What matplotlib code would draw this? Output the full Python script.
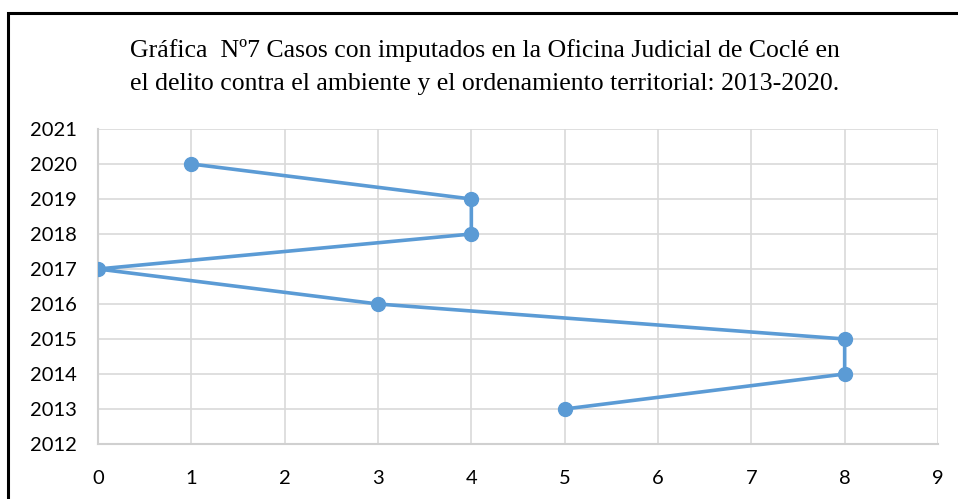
import matplotlib.pyplot as plt
from matplotlib.patches import Rectangle

years = [2013, 2014, 2015, 2016, 2017, 2018, 2019, 2020]
casos = [5, 8, 8, 3, 0, 4, 4, 1]
titulo = ("Gráfica  Nº7 Casos con imputados en la Oficina Judicial de Coclé en\n"
          "el delito contra el ambiente y el ordenamiento territorial: 2013-2020.")

W, H = 958, 499
fig = plt.figure(figsize=(W / 100, H / 100), dpi=100)
ax = fig.add_axes([98 / W, (H - 444) / H, 840 / W, 315 / H])

ax.plot(casos, years, color='#5b9bd5', lw=2.6, marker='o', ms=10, zorder=3)

ax.set_xlim(0, 9)
ax.set_ylim(2012, 2021)
ax.set_xticks(range(0, 10))
ax.set_yticks(range(2012, 2022))
ax.grid(True, color='#d9d9d9', lw=1.2)
ax.set_axisbelow(True)
for s in ax.spines.values():
    s.set_visible(False)
for side in ['left', 'bottom']:
    ax.spines[side].set_visible(True)
    ax.spines[side].set_color('#d0d0d0')
    ax.spines[side].set_linewidth(1.5)
ax.tick_params(length=0, labelsize=14.5)
ax.tick_params(axis='y', pad=15)
ax.tick_params(axis='x', pad=19)
for lab in ax.get_xticklabels() + ax.get_yticklabels():
    lab.set_fontfamily('Lato')

fig.text(485 / W, 1 - 67 / H, titulo, ha='center', va='center',
         fontsize=18.5, family='Liberation Serif', linespacing=1.7)

fig.patches.append(Rectangle((7.5 / W, -0.1), 1.1, 1 - 13.5 / H + 0.1,
                             transform=fig.transFigure, fill=False,
                             ec='black', lw=2.2, clip_on=False))

fig.savefig('out.png', dpi=100)
